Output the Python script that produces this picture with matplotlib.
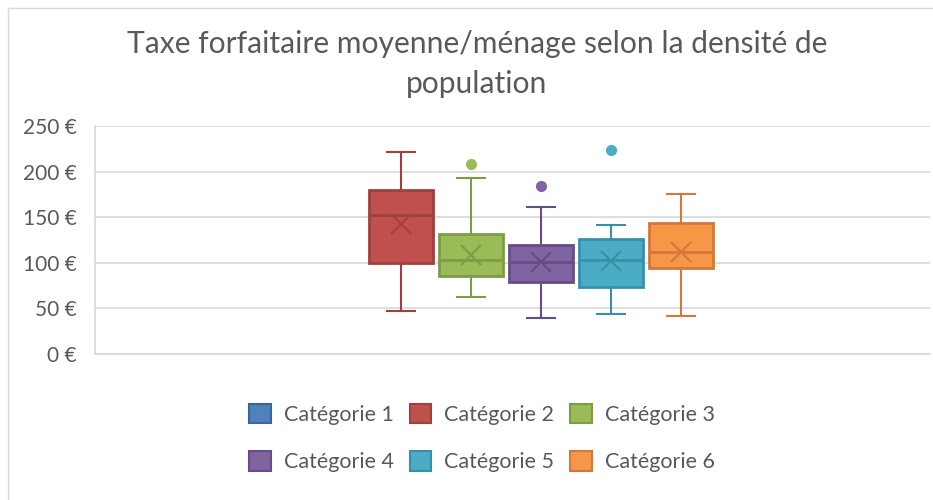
""" box plot: taxe forfaitaire moyenne par menage selon densite """

import matplotlib.pyplot as plt
from matplotlib.lines import Line2D
from matplotlib.patches import Patch

OUT_FN = 'out.png'

## DATA ##
categories = ['Catégorie 1', 'Catégorie 2', 'Catégorie 3',
              'Catégorie 4', 'Catégorie 5', 'Catégorie 6']
whis_lo = [None, 47.5, 63, 40, 44, 42]
q1 = [None, 100, 85, 79, 73, 94]
median = [None, 152, 103, 101, 103, 112]
q3 = [None, 180, 132, 119, 126, 144]
whis_hi = [None, 221, 193, 161, 141, 175]
mean = [None, 142, 109, 101, 102, 112]
fliers = [[], [], [208], [184], [224], []]

fill_colors = ['#4F81BD', '#C0504D', '#9BBB59', '#8064A2', '#4BACC6', '#F79646']
edge_colors = ['#3A6596', '#A0403D', '#7E9C45', '#654E85', '#3890A8', '#D2783A']
y_ticks = [0, 50, 100, 150, 200, 250]

plt.rcParams['font.family'] = ['Lato', 'DejaVu Sans']
TXT = '#595959'

fig = plt.figure(figsize=(9.33, 5), dpi=100)
ax = fig.add_axes([0.102, 0.292, 0.895, 0.456])

# chart area border (top and left edges visible)
fig.add_artist(Line2D([8 / 933, 1], [1 - 8 / 500, 1 - 8 / 500],
                      transform=fig.transFigure, color='#D9D9D9', lw=1))
fig.add_artist(Line2D([8 / 933, 8 / 933], [0, 1 - 8 / 500],
                      transform=fig.transFigure, color='#D9D9D9', lw=1))

## BOXES ##
for i in range(len(categories)):
    if q1[i] is None:
        continue
    st = {'whislo': whis_lo[i], 'q1': q1[i], 'med': median[i], 'q3': q3[i],
          'whishi': whis_hi[i], 'mean': mean[i], 'fliers': fliers[i]}
    fc, ec = fill_colors[i], edge_colors[i]
    ax.bxp([st], positions=[i], widths=0.91, patch_artist=True, showmeans=True,
           boxprops=dict(facecolor=fc, edgecolor=ec, lw=2),
           medianprops=dict(color=ec, lw=2),
           whiskerprops=dict(color=ec, lw=1.5),
           capprops=dict(color=ec, lw=1.5),
           capwidths=0.4,
           meanprops=dict(marker='x', markersize=14, markeredgecolor=ec,
                          markeredgewidth=1.5),
           flierprops=dict(marker='o', markersize=7, markerfacecolor=fc,
                           markeredgecolor=fc))

ax.set_xlim(-3.37, 8.56)
ax.set_ylim(0, 250)
ax.set_yticks(y_ticks)
ax.set_yticklabels([f'{v} €' for v in y_ticks], fontsize=15, color=TXT)
ax.set_xticks([])
ax.tick_params(axis='y', length=0, pad=13)
ax.grid(axis='y', color='#D9D9D9', lw=1.2)
ax.set_axisbelow(True)
for s in ['top', 'right']:
    ax.spines[s].set_visible(False)
for s in ['left', 'bottom']:
    ax.spines[s].set_color('#D9D9D9')
    ax.spines[s].set_linewidth(1.2)

fig.text(477 / 933, 1 - 64 / 500,
         'Taxe forfaitaire moyenne/ménage selon la densité de\npopulation',
         ha='center', va='center', fontsize=21.6, color=TXT, linespacing=1.5)

## LEGEND ##
# legend fills column by column, reorder so rows read 1-2-3 / 4-5-6
order = [0, 3, 1, 4, 2, 5]
handles = [Patch(facecolor=fill_colors[i], edgecolor=edge_colors[i], lw=1.5)
           for i in order]
labels = [categories[i] for i in order]
fig.legend(handles, labels, loc='center', ncol=3,
           bbox_to_anchor=(482 / 933, 1 - 438 / 500), frameon=False,
           fontsize=15.5, labelcolor=TXT, handlelength=1.0, handleheight=1.0,
           handletextpad=0.6, columnspacing=0.75, labelspacing=1.25)

plt.savefig(OUT_FN)
